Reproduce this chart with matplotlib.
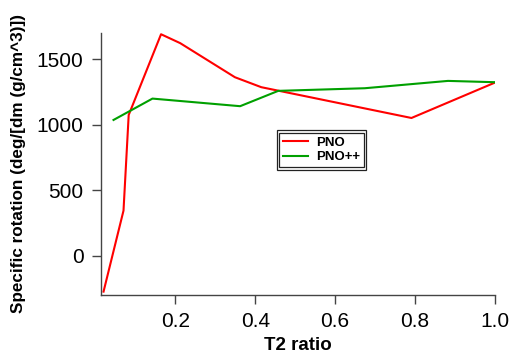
import matplotlib

matplotlib.use("Agg")
import matplotlib.pyplot as plt
from matplotlib.patches import Rectangle

# values
pno_x = [0.02, 0.07, 0.083, 0.164, 0.212, 0.349, 0.415, 0.791, 1.0]
pno_y = [-272, 346, 1076, 1692, 1624, 1364, 1288, 1053, 1323]
pnopp_x = [0.045, 0.1425, 0.362, 0.4575, 0.674, 0.8825, 1.0]
pnopp_y = [1038, 1201, 1143, 1260, 1280, 1336, 1326]
x_ticks = [0.2, 0.4, 0.6, 0.8, 1.0]
y_ticks = [0, 500, 1000, 1500]

plt.rcParams["font.family"] = ["Liberation Sans", "DejaVu Sans"]

fig = plt.figure(figsize=(5.15, 3.58), dpi=100)
ax = fig.add_axes([0.196, 0.177, 0.765, 0.731])

ax.plot(pno_x, pno_y, color="#ff0000", lw=1.5, label="PNO")
ax.plot(pnopp_x, pnopp_y, color="#00a000", lw=1.5, label="PNO++")

ax.set_xlim(0.0135, 1.0)
ax.set_ylim(-295, 1702)
ax.set_xticks(x_ticks)
ax.set_xticklabels([f"{t:.1f}" for t in x_ticks])
ax.set_yticks(y_ticks)

for side in ("top", "right"):
    ax.spines[side].set_visible(False)
for side in ("left", "bottom"):
    ax.spines[side].set_color("#444444")
    ax.spines[side].set_linewidth(1.0)
ax.tick_params(direction="out", length=6.5, width=1.0, color="#444444",
               labelsize=15, pad=6)

ax.set_xlabel("T2 ratio", fontsize=13.5, fontweight="bold", labelpad=4)
ax.set_ylabel("Specific rotation (deg/[dm (g/cm^3)])", fontsize=12.3,
              fontweight="bold", labelpad=8)

leg = ax.legend(loc="upper left", bbox_to_anchor=(0.452, 0.618),
                prop={"weight": "bold", "size": 9.5}, fancybox=False,
                handlelength=1.9, handletextpad=0.6, borderpad=0.3,
                labelspacing=0.15, framealpha=1.0, borderaxespad=0)
frame = leg.get_frame()
frame.set_edgecolor("#222222")
frame.set_linewidth(0.9)

# outer line of the double border
fig.canvas.draw()
bb = leg.get_window_extent().transformed(fig.transFigure.inverted())
px, py = 2.5 / 515, 2.5 / 358
fig.add_artist(Rectangle((bb.x0 - px, bb.y0 - py), bb.width + 2 * px,
                         bb.height + 2 * py, transform=fig.transFigure,
                         fill=False, edgecolor="#222222", linewidth=0.9))

fig.savefig("out.png", dpi=100)
